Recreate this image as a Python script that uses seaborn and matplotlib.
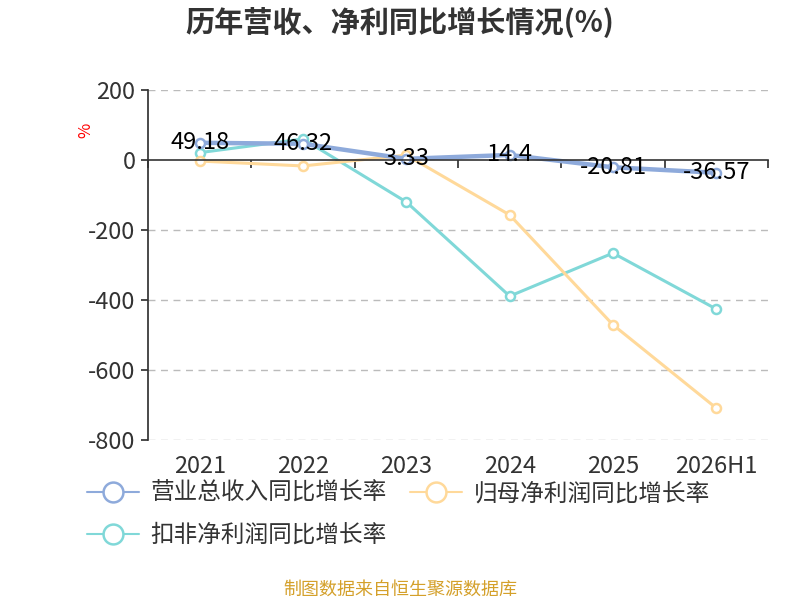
import pandas as pd
import matplotlib
matplotlib.use("Agg")
import matplotlib.pyplot as plt
import seaborn as sns

# values
years = ["2021", "2022", "2023", "2024", "2025", "2026H1"]
revenue_growth = [49.18, 46.32, 3.33, 14.4, -20.81, -36.57]
parent_profit_growth = [-3, -17, 14, -157, -471, -709]
deducted_profit_growth = [21, 60, -120, -389, -266, -426]

names = ["营业总收入同比增长率", "归母净利润同比增长率", "扣非净利润同比增长率"]
colors = ["#8eaadb", "#ffd99a", "#80d8d8"]
widths = [3.2, 2.2, 2.2]

sns.set_theme(style="white")
plt.rcParams["font.family"] = ["Noto Sans CJK SC", "DejaVu Sans"]
plt.rcParams["axes.unicode_minus"] = False

rows = []
for name, vals in zip(names, [revenue_growth, parent_profit_growth, deducted_profit_growth]):
    for i, v in enumerate(vals):
        rows.append({"pos": i, "year": years[i], "value": v, "series": name})
df = pd.DataFrame(rows)

fig = plt.figure(figsize=(8, 6), dpi=100)
ax = fig.add_axes([0.185, 0.2667, 0.775, 0.5833])

# draw in reverse so the revenue line sits on top
for name, color, lw in reversed(list(zip(names, colors, widths))):
    sns.lineplot(data=df[df["series"] == name], x="pos", y="value", ax=ax,
                 color=color, linewidth=lw, marker="o", markersize=6.5,
                 markerfacecolor="white", markeredgecolor=color,
                 markeredgewidth=1.8, label=name, legend=False)

for i, v in enumerate(revenue_growth):
    ax.text(i, v, f"{v:g}", ha="center", va="center", fontsize=17, color="black")

ax.set_xlim(-0.5, len(years) - 0.5)
ax.set_ylim(-800, 200)
ax.set_yticks([200, 0, -200, -400, -600, -800])
ax.tick_params(axis="y", labelsize=17, colors="#333333", length=5, direction="out",
               left=True, pad=4)
ax.set_xlabel("")
ax.set_ylabel("")

for y in [200, -200, -400, -600, -800]:
    ax.axhline(y, color="#bbbbbb", linestyle=(0, (5, 4)), linewidth=1, zorder=0)

for s in ["top", "right"]:
    ax.spines[s].set_visible(False)
ax.spines["left"].set_color("#333333")
ax.spines["bottom"].set_position(("data", 0))
ax.spines["bottom"].set_color("#333333")
ax.spines["bottom"].set_linewidth(1.2)
ax.set_xticks([i - 0.5 for i in range(len(years) + 1)])
ax.set_xticklabels([])
ax.tick_params(axis="x", length=6, direction="out", bottom=True, colors="#333333")

sec = ax.secondary_xaxis(0.0)
sec.set_xticks(range(len(years)))
sec.set_xticklabels(years)
sec.tick_params(length=0, labelsize=17, colors="#333333", pad=11)
sec.spines["bottom"].set_visible(False)

ax.text(-0.10, 0.886, "%", transform=ax.transAxes, color="red", fontsize=12,
        rotation=90, ha="center", va="center")

fig.text(0.5, 0.962, "历年营收、净利同比增长情况(%)", ha="center", va="center",
         fontsize=21, fontweight="bold", color="#333333")

handles, labels = ax.get_legend_handles_labels()
# column-wise fill: revenue, deducted in col 1; parent in col 2
order = [labels.index(n) for n in [names[0], names[2], names[1]]]
leg = fig.legend([handles[i] for i in order], [labels[i] for i in order],
                 loc="upper left", bbox_to_anchor=(0.082, 0.232), ncol=2,
                 frameon=False, fontsize=17, markerscale=2.2, handlelength=2.2,
                 columnspacing=1.0, handletextpad=0.5, labelspacing=0.8,
                 labelcolor="#333333")
for line in leg.get_lines():
    line.set_linewidth(1.5)

fig.text(0.5, 0.017, "制图数据来自恒生聚源数据库", ha="center", va="center",
         fontsize=13, color="#d4a02a")

fig.savefig("out.png", dpi=100)
